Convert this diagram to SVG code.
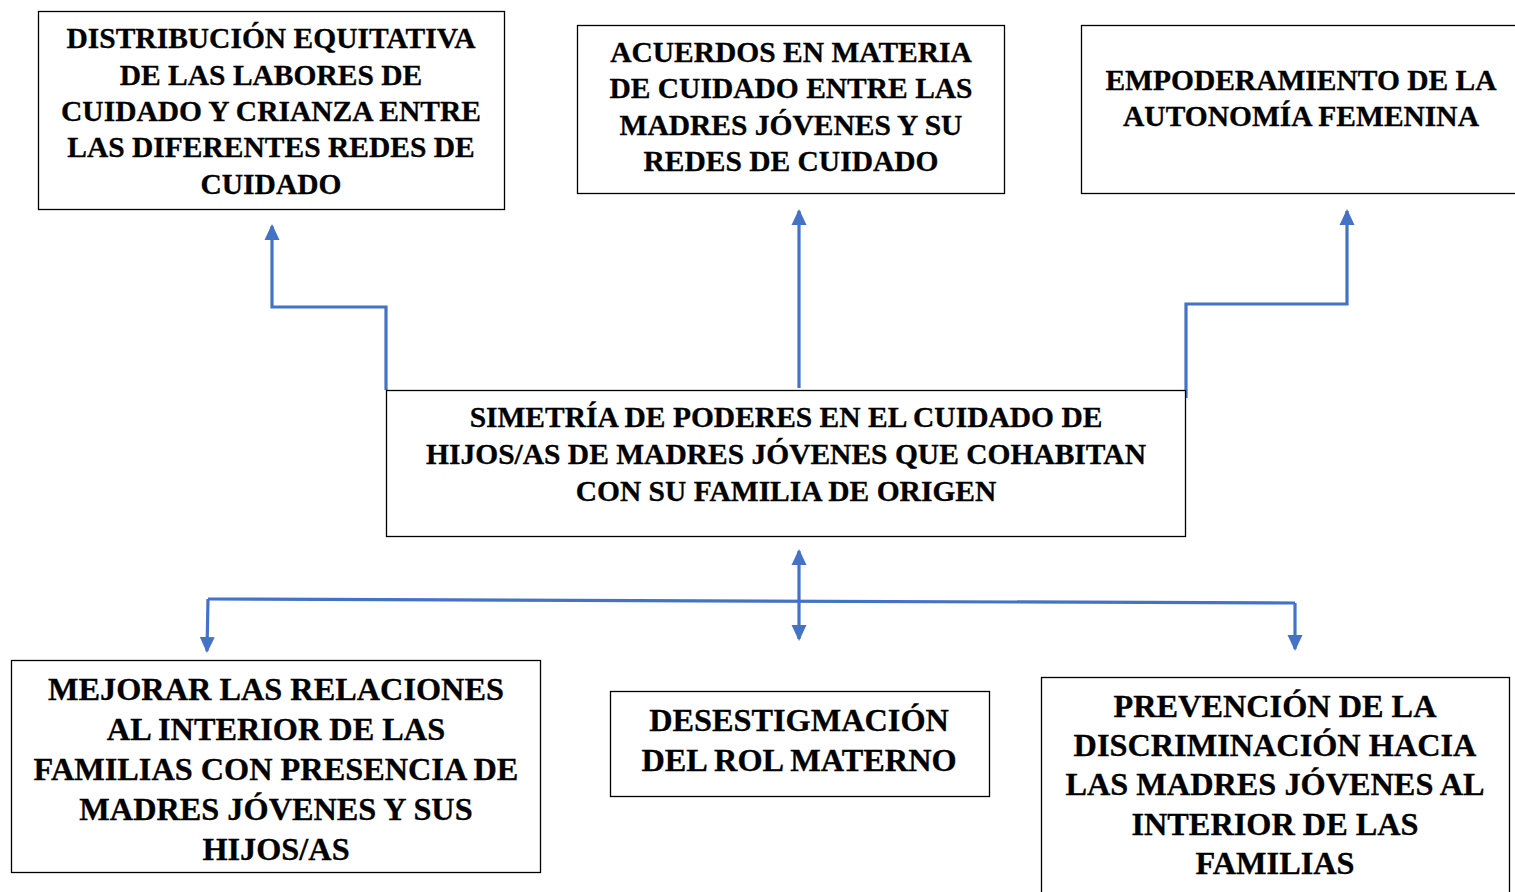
<svg xmlns="http://www.w3.org/2000/svg" width="1515" height="892" viewBox="0 0 1515 892">
<style>
.box{fill:#fff;stroke:#000;stroke-width:1.3}
.t{font-family:"Liberation Serif","Times New Roman",serif;font-weight:bold;fill:#000;text-anchor:middle;stroke:#000;stroke-width:0.3}
.s{font-size:29.5px}
.l{font-size:32.3px}
.c{fill:none;stroke:#4472C4;stroke-width:3.2}
</style>
<defs>
<marker id="ah" viewBox="0 0 16 16" refX="14" refY="8" markerWidth="16" markerHeight="16" orient="auto" markerUnits="userSpaceOnUse">
<path d="M0,0.5 L16,8 L0,15.5 Z" fill="#4472C4"/>
</marker>
</defs>
<rect width="1515" height="892" fill="#fff"/>
<g id="connectors">
<path class="c" d="M386,390 V307 H272 V226" marker-end="url(#ah)"/>
<path class="c" d="M799,388 V211" marker-end="url(#ah)"/>
<path class="c" d="M1186,398 V304 H1347 V211" marker-end="url(#ah)"/>
<path class="c" d="M799,598 V551" marker-end="url(#ah)"/>
<path class="c" d="M799,598 V639" marker-end="url(#ah)"/>
<path class="c" d="M208,599 L1295,603"/>
<path class="c" d="M208,599 L207,651" marker-end="url(#ah)"/>
<path class="c" d="M1295,603 V649" marker-end="url(#ah)"/>
</g>
<g id="n1">
<rect class="box" x="38.5" y="11.5" width="466" height="198"/>
<text class="t s"><tspan x="271" y="48">DISTRIBUCIÓN EQUITATIVA</tspan><tspan x="271" y="85">DE LAS LABORES DE</tspan><tspan x="271" y="121">CUIDADO Y CRIANZA ENTRE</tspan><tspan x="271" y="157">LAS DIFERENTES REDES DE</tspan><tspan x="271" y="194">CUIDADO</tspan></text>
</g>
<g id="n2">
<rect class="box" x="577.5" y="25.5" width="427" height="168"/>
<text class="t s"><tspan x="791" y="62">ACUERDOS EN MATERIA</tspan><tspan x="791" y="98">DE CUIDADO ENTRE LAS</tspan><tspan x="791" y="135">MADRES JÓVENES Y SU</tspan><tspan x="791" y="171">REDES DE CUIDADO</tspan></text>
</g>
<g id="n3">
<rect class="box" x="1081.5" y="25.5" width="450" height="168"/>
<text class="t s"><tspan x="1301" y="90">EMPODERAMIENTO DE LA</tspan><tspan x="1301" y="126">AUTONOMÍA FEMENINA</tspan></text>
</g>
<g id="n4">
<rect class="box" x="386.5" y="390.5" width="799" height="146"/>
<text class="t s"><tspan x="786" y="427">SIMETRÍA DE PODERES EN EL CUIDADO DE</tspan><tspan x="786" y="464">HIJOS/AS DE MADRES JÓVENES QUE COHABITAN</tspan><tspan x="786" y="501">CON SU FAMILIA DE ORIGEN</tspan></text>
</g>
<g id="n5">
<rect class="box" x="11.5" y="660.5" width="529" height="212"/>
<text class="t l"><tspan x="276" y="700">MEJORAR LAS RELACIONES</tspan><tspan x="276" y="740">AL INTERIOR DE LAS</tspan><tspan x="276" y="780">FAMILIAS CON PRESENCIA DE</tspan><tspan x="276" y="820">MADRES JÓVENES Y SUS</tspan><tspan x="276" y="860">HIJOS/AS</tspan></text>
</g>
<g id="n6">
<rect class="box" x="610.5" y="691.5" width="379" height="105"/>
<text class="t l"><tspan x="799" y="731">DESESTIGMACIÓN</tspan><tspan x="799" y="771">DEL ROL MATERNO</tspan></text>
</g>
<g id="n7">
<rect class="box" x="1041.5" y="677.5" width="468" height="230"/>
<text class="t l"><tspan x="1275" y="717">PREVENCIÓN DE LA</tspan><tspan x="1275" y="756">DISCRIMINACIÓN HACIA</tspan><tspan x="1275" y="795">LAS MADRES JÓVENES AL</tspan><tspan x="1275" y="835">INTERIOR DE LAS</tspan><tspan x="1275" y="874">FAMILIAS</tspan></text>
</g>
</svg>
